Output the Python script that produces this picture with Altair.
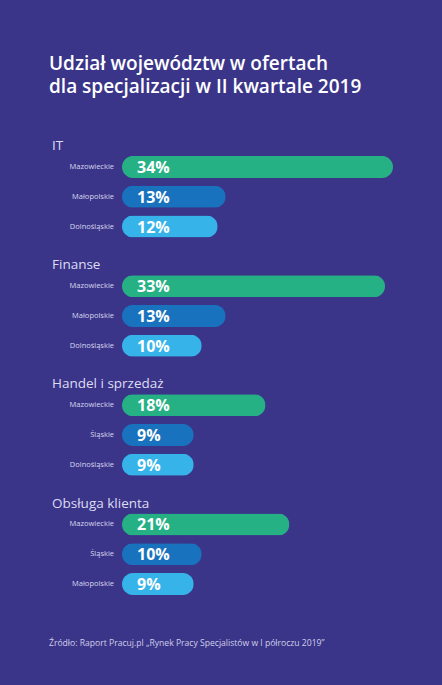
import altair as alt
import pandas as pd

# Source data: share of job offers by voivodeship, per specialisation (Q2 2019)
groups = ["IT", "Finanse", "Handel i sprzedaż", "Obsługa klienta"]
regions = [
    ["Mazowieckie", "Małopolskie", "Dolnośląskie"],
    ["Mazowieckie", "Małopolskie", "Dolnośląskie"],
    ["Mazowieckie", "Śląskie", "Dolnośląskie"],
    ["Mazowieckie", "Śląskie", "Małopolskie"],
]
values = [
    [34, 13, 12],
    [33, 13, 10],
    [18, 9, 9],
    [21, 10, 9],
]
title_lines = ["Udział województw w ofertach", "dla specjalizacji w II kwartale 2019"]
source_note = "Źródło: Raport Pracuj.pl „Rynek Pracy Specjalistów w I półroczu 2019”"

BG = "#3b358a"
BAR_COLORS = ["#26b185", "#1872bd", "#36b4ea"]
FONT = "Open Sans"

# one slot per line: a header slot followed by three bar slots per group
bar_rows, head_rows = [], []
for g, name in enumerate(groups):
    head_rows.append({"group": name, "slot": g * 4})
    for k in range(3):
        bar_rows.append({
            "group": name,
            "region": regions[g][k],
            "value": values[g][k],
            "rank": k,
            "slot": g * 4 + k + 1,
            "label": f"{values[g][k]}%",
        })
bars_df = pd.DataFrame(bar_rows)
heads_df = pd.DataFrame(head_rows)
title_df = pd.DataFrame({"line": title_lines, "i": list(range(len(title_lines)))})
note_df = pd.DataFrame({"text": [source_note]})

y_slot = alt.Y(
    "slot:Q",
    scale=alt.Scale(domain=[0, 15], range=[137.2, 584], nice=False, zero=False, padding=0),
    axis=None,
)
x_val = alt.X("value:Q", scale=alt.Scale(domain=[0, 34], range=[122, 393], nice=False, padding=0), axis=None)

bars = alt.Chart(bars_df).mark_bar(size=22, cornerRadius=11, orient="horizontal").encode(
    x=x_val,
    y=y_slot,
    color=alt.Color("rank:O", scale=alt.Scale(domain=[0, 1, 2], range=BAR_COLORS), legend=None),
)

value_labels = alt.Chart(bars_df).mark_text(
    align="left", baseline="middle", font=FONT, fontSize=16, fontWeight="bold", color="white", dy=1
).encode(x=alt.value(137), y=y_slot, text="label:N")

region_labels = alt.Chart(bars_df).mark_text(
    align="right", baseline="middle", font=FONT, fontSize=7.5, color="#d6d5ec"
).encode(x=alt.value(114), y=y_slot, text="region:N")

headers = alt.Chart(heads_df).mark_text(
    align="left", baseline="middle", font=FONT, fontSize=13.5, color="#dedcf2", dy=9
).encode(x=alt.value(52), y=y_slot, text="group:N")

body = alt.layer(bars, value_labels, region_labels, headers)

title = alt.Chart(title_df).mark_text(
    align="left", baseline="middle", font=FONT, fontSize=19, fontWeight=600, color="white"
).encode(
    x=alt.value(49),
    y=alt.Y("i:Q", scale=alt.Scale(domain=[0, 1], range=[64, 87], nice=False, zero=False), axis=None),
    text="line:N",
)

note = alt.Chart(note_df).mark_text(
    align="left", baseline="middle", font=FONT, fontSize=8.6, color="#d0cfe8"
).encode(x=alt.value(49), y=alt.value(643), text="text:N")

chart = alt.layer(body, title, note).resolve_scale(y="independent").properties(
    width=442, height=685, background=BG, padding=0, autosize=alt.AutoSizeParams(type="none")
).configure_view(stroke=None)

chart.save("out.html", embed_options={"renderer": "svg", "actions": False})
